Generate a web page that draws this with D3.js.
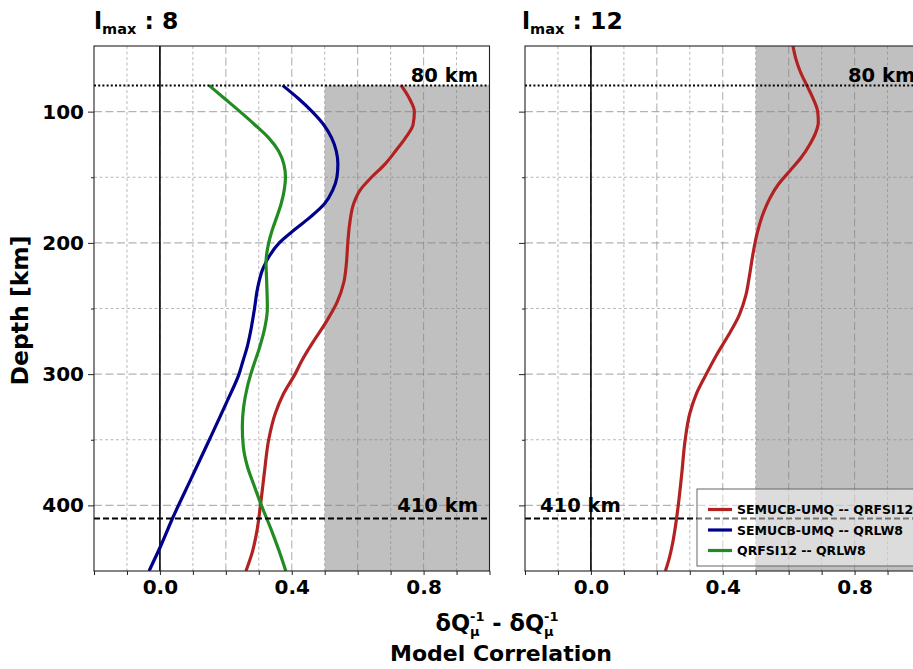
<!DOCTYPE html>
<html>
<head>
<meta charset="utf-8">
<script src="https://cdn.jsdelivr.net/npm/d3@7"></script>
<style>
  body { margin: 0; background: #fff; }
  text { font-family: "DejaVu Sans", sans-serif; font-weight: bold; fill: #000; white-space: pre; }
</style>
</head>
<body>
<svg id="chart" width="913" height="669"></svg>
<script>
// ---- data -------------------------------------------------------------
const xTickValues = [-0.2, -0.1, 0.0, 0.1, 0.2, 0.3, 0.4, 0.5, 0.6, 0.7, 0.8, 0.9, 1.0];
const xTickLabels = [0.0, 0.4, 0.8];
const yMajorTicks = [100, 200, 300, 400];
const yMinorTicks = [150, 250, 350];
const panelLmax = ["8", "12"];
const seriesNames = ["SEMUCB-UMQ -- QRFSI12", "SEMUCB-UMQ -- QRLW8", "QRFSI12 -- QRLW8"];
const seriesColors = ["#b22222", "#00008b", "#228b22"];
const refDepths = [80, 410];
const refLabels = ["80 km", "410 km"];
const shadeFrom = 0.5;

// lmax = 8 : SEMUCB-UMQ -- QRFSI12
const depthRed8 = [80, 90, 100, 110, 120, 130, 140, 150, 160, 170, 185, 200, 215, 230, 245, 260, 275, 290, 300, 315, 330, 350, 375, 400, 420, 435, 450];
const corrRed8  = [0.732, 0.757, 0.772, 0.768, 0.745, 0.715, 0.683, 0.642, 0.607, 0.588, 0.576, 0.570, 0.566, 0.558, 0.538, 0.505, 0.466, 0.430, 0.410, 0.375, 0.350, 0.330, 0.317, 0.305, 0.294, 0.281, 0.261];
// lmax = 8 : SEMUCB-UMQ -- QRLW8
const depthBlue8 = [80, 90, 100, 110, 120, 130, 140, 150, 160, 170, 180, 190, 200, 210, 220, 235, 250, 265, 280, 290, 300, 320, 350, 380, 410, 430, 450];
const corrBlue8  = [0.372, 0.420, 0.462, 0.497, 0.521, 0.535, 0.540, 0.537, 0.524, 0.500, 0.458, 0.408, 0.362, 0.332, 0.312, 0.296, 0.287, 0.277, 0.264, 0.252, 0.240, 0.205, 0.150, 0.094, 0.038, 0.004, -0.033];
// lmax = 8 : QRFSI12 -- QRLW8
const depthGreen8 = [80, 90, 100, 110, 120, 130, 140, 150, 160, 170, 180, 190, 200, 215, 230, 250, 265, 280, 295, 310, 325, 340, 355, 370, 385, 400, 420, 435, 450];
const corrGreen8  = [0.149, 0.196, 0.243, 0.288, 0.330, 0.360, 0.376, 0.381, 0.377, 0.368, 0.355, 0.341, 0.330, 0.322, 0.324, 0.326, 0.318, 0.302, 0.282, 0.265, 0.254, 0.250, 0.253, 0.265, 0.286, 0.308, 0.340, 0.362, 0.382];
// lmax = 12 : SEMUCB-UMQ -- QRFSI12
const depthRed12 = [50, 60, 70, 80, 90, 100, 108, 116, 125, 135, 145, 155, 165, 178, 192, 208, 225, 240, 255, 270, 285, 300, 315, 330, 350, 375, 400, 415, 430, 440, 450];
const corrRed12  = [0.613, 0.622, 0.636, 0.655, 0.674, 0.688, 0.690, 0.682, 0.664, 0.638, 0.604, 0.570, 0.545, 0.522, 0.505, 0.492, 0.481, 0.470, 0.450, 0.418, 0.382, 0.350, 0.320, 0.300, 0.286, 0.276, 0.265, 0.257, 0.247, 0.238, 0.226];

// ---- layout -----------------------------------------------------------
const svg = d3.select("#chart");
const plotTop = 46, plotBottom = 571, plotWidth = 395.5;

const panels = [
  { left: 94, lmax: panelLmax[0], shadeTop: 80, legend: false, labelsRight: true,
    series: [
      { depth: depthRed8, corr: corrRed8, color: seriesColors[0] },
      { depth: depthBlue8, corr: corrBlue8, color: seriesColors[1] },
      { depth: depthGreen8, corr: corrGreen8, color: seriesColors[2] }
    ] },
  { left: 525, lmax: panelLmax[1], shadeTop: 50, legend: true, labelsRight: false,
    series: [
      { depth: depthRed12, corr: corrRed12, color: seriesColors[0] }
    ] }
];

const y = d3.scaleLinear().domain([50, 450]).range([plotTop, plotBottom]);

panels.forEach((p, i) => {
  const x = d3.scaleLinear().domain([-0.2, 1.0]).range([p.left, p.left + plotWidth]);
  const g = svg.append("g");

  const clipId = "clip" + i;
  svg.append("clipPath").attr("id", clipId)
    .append("rect").attr("x", x(-0.2)).attr("y", y(50))
    .attr("width", x(1.0) - x(-0.2)).attr("height", y(450) - y(50));
  const inner = g.append("g").attr("clip-path", `url(#${clipId})`);

  // shaded high-correlation region
  inner.append("rect")
    .attr("x", x(shadeFrom)).attr("y", y(p.shadeTop))
    .attr("width", x(1.0) - x(shadeFrom)).attr("height", y(450) - y(p.shadeTop))
    .attr("fill", "#c0c0c0");

  // grid
  const vMinor = xTickValues.filter(v => Math.round(v * 10) % 2 !== 0);
  const vMajor = xTickValues.filter(v => Math.round(v * 10) % 2 === 0 && v > -0.2 && v < 1.0);
  const gridLines = (cls, data, vertical, major) => inner.selectAll("." + cls).data(data).join("line")
    .attr("x1", d => vertical ? x(d) : x(-0.2)).attr("x2", d => vertical ? x(d) : x(1.0))
    .attr("y1", d => vertical ? y(50) : y(d)).attr("y2", d => vertical ? y(450) : y(d))
    .attr("stroke", "#808080")
    .attr("stroke-opacity", major ? 0.6 : 0.55)
    .attr("stroke-width", major ? 1.1 : 1)
    .attr("stroke-dasharray", major ? "8,3.5" : "3,2.5");
  gridLines("vminor", vMinor, true, false);
  gridLines("vmajor", vMajor, true, true);
  gridLines("hminor", yMinorTicks, false, false);
  gridLines("hmajor", yMajorTicks, false, true);

  // zero-correlation line
  inner.append("line")
    .attr("x1", x(0)).attr("x2", x(0)).attr("y1", y(50)).attr("y2", y(450))
    .attr("stroke", "#000").attr("stroke-width", 1.6);

  // correlation profiles
  const line = d3.line()
    .x(d => x(d[1])).y(d => y(d[0]))
    .curve(d3.curveMonotoneY);
  p.series.forEach(s => {
    inner.append("path")
      .datum(s.depth.map((d, k) => [d, s.corr[k]]))
      .attr("d", line)
      .attr("fill", "none").attr("stroke", s.color).attr("stroke-width", 3.2)
      .attr("stroke-linejoin", "round");
  });

  // reference depths
  inner.append("line")
    .attr("x1", x(-0.2)).attr("x2", x(1.0)).attr("y1", y(refDepths[0])).attr("y2", y(refDepths[0]))
    .attr("stroke", "#000").attr("stroke-width", 2).attr("stroke-dasharray", "2,2.2");
  inner.append("line")
    .attr("x1", x(-0.2)).attr("x2", x(1.0)).attr("y1", y(refDepths[1])).attr("y2", y(refDepths[1]))
    .attr("stroke", "#000").attr("stroke-width", 1.8).attr("stroke-dasharray", "6,3");

  const kmLabelX = p.labelsRight ? x(0.965) : x(-0.2) + 15;
  g.append("text").attr("x", p.labelsRight ? x(0.965) : x(-0.2) + 323).attr("y", y(refDepths[0]) - 3)
    .attr("text-anchor", p.labelsRight ? "end" : "start")
    .style("font-size", "19.5px").text(refLabels[0]);
  g.append("text").attr("x", kmLabelX).attr("y", y(refDepths[1]) - 7)
    .attr("text-anchor", p.labelsRight ? "end" : "start")
    .style("font-size", "19.5px").text(refLabels[1]);

  // frame
  g.append("rect")
    .attr("x", x(-0.2)).attr("y", y(50))
    .attr("width", x(1.0) - x(-0.2)).attr("height", y(450) - y(50))
    .attr("fill", "none").attr("stroke", "#222").attr("stroke-width", 1.1);

  // axes
  const xAxis = d3.axisBottom(x).tickValues(xTickValues).tickSize(4).tickPadding(5)
    .tickFormat(v => xTickLabels.some(t => Math.abs(t - v) < 1e-9) ? d3.format(".1f")(v) : "");
  const ax = g.append("g").attr("transform", `translate(0,${plotBottom})`).call(xAxis);
  ax.select(".domain").remove();
  ax.selectAll(".tick line").attr("stroke", "#222");
  ax.selectAll("text").style("font-size", "20px").style("font-family", '"DejaVu Sans", sans-serif').style("font-weight", "bold");

  const yAxisMajor = d3.axisLeft(y).tickValues(yMajorTicks).tickSize(6).tickPadding(4)
    .tickFormat(i === 0 ? d3.format("d") : () => "");
  const ay = g.append("g").attr("transform", `translate(${p.left},0)`).call(yAxisMajor);
  ay.select(".domain").remove();
  ay.selectAll(".tick line").attr("stroke", "#222");
  ay.selectAll("text").style("font-size", "20px").style("font-family", '"DejaVu Sans", sans-serif').style("font-weight", "bold");
  const yAxisMinor = d3.axisLeft(y).tickValues(yMinorTicks).tickSize(3).tickFormat(() => "");
  const ay2 = g.append("g").attr("transform", `translate(${p.left},0)`).call(yAxisMinor);
  ay2.select(".domain").remove();
  ay2.selectAll(".tick line").attr("stroke", "#222");

  // panel title
  const t = g.append("text").attr("x", p.left - (i === 0 ? 0 : 3)).attr("y", 29).style("font-size", "23.5px");
  t.append("tspan").text("l");
  t.append("tspan").attr("dy", 5).style("font-size", "14.5px").text("max");
  t.append("tspan").attr("dy", -5).text(" : " + p.lmax);

  // legend
  if (p.legend) {
    const lg = g.append("g");
    lg.append("rect").attr("x", 697).attr("y", 489).attr("width", 260).attr("height", 77)
      .attr("fill", "#fff").attr("fill-opacity", 0.45)
      .attr("stroke", "#666").attr("stroke-width", 1);
    seriesNames.forEach((name, k) => {
      const ly = 509.5 + k * 20.5;
      lg.append("line").attr("x1", 708).attr("x2", 732).attr("y1", ly).attr("y2", ly)
        .attr("stroke", seriesColors[k]).attr("stroke-width", 3.2);
      lg.append("text").attr("x", 737).attr("y", ly).attr("dy", "0.36em")
        .style("font-size", "12.5px").text(name);
    });
  }
});

// x axis label: one text element, stacked sub/superscripts placed with tspans
const mainSize = 22.5, scriptSize = 13, line1Y = 630.5;
function measure(txt, size) {
  const tmp = svg.append("text").style("font-size", size + "px").text(txt);
  const w = tmp.node().getComputedTextLength();
  tmp.remove();
  return w;
}
const pieces = [];
let cursor = 0;
function deltaQ() {
  pieces.push({ txt: "\u03B4Q", size: mainSize, x: cursor, dy: 0 });
  cursor += measure("\u03B4Q", mainSize);
  pieces.push({ txt: "-1", size: scriptSize, x: cursor, dy: -9.5 });
  pieces.push({ txt: "\u03BC", size: scriptSize, x: cursor, dy: 5.5 });
  cursor += Math.max(measure("-1", scriptSize), measure("\u03BC", scriptSize));
}
deltaQ();
pieces.push({ txt: " - ", size: mainSize, x: cursor, dy: 0 });
cursor += measure(" - ", mainSize);
deltaQ();
const labelLeft = 497 - cursor / 2;
const lab = svg.append("text").attr("y", line1Y);
pieces.forEach(pc => {
  lab.append("tspan").attr("x", labelLeft + pc.x).attr("y", line1Y + pc.dy)
    .style("font-size", pc.size + "px").text(pc.txt);
});

svg.append("text").attr("x", 501).attr("y", 661).attr("text-anchor", "middle")
  .style("font-size", "22px").text("Model Correlation");

// y axis label
svg.append("text")
  .attr("transform", `translate(28,${(plotTop + plotBottom) / 2 + 2}) rotate(-90)`)
  .attr("text-anchor", "middle").style("font-size", "23.5px").text("Depth [km]");
</script>
</body>
</html>
